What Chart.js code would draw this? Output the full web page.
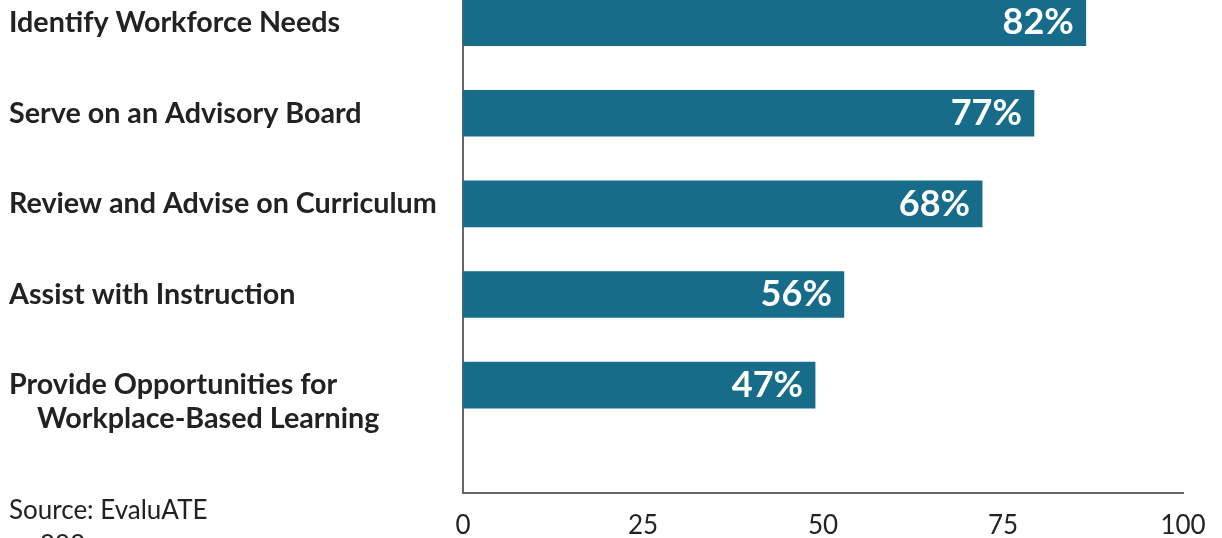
<!DOCTYPE html>
<html lang="en">
<head>
<meta charset="UTF-8">
<title>Business and industry partner roles</title>
<script src="https://cdn.jsdelivr.net/npm/chart.js"></script>
<style>
  body { margin: 0; background: #fff; font-family: Lato, sans-serif; }
  .wrap { position: relative; width: 1222px; height: 538px; overflow: hidden; }
  .source { position: absolute; left: 9px; top: 492px; font-size: 26px; line-height: 35px; color: #222; }
  .source span { padding-left: 31px; }
</style>
</head>
<body>
<div class="wrap">
  <canvas id="rolesChart"></canvas>
  <div class="source">Source: EvaluATE<br><span>999</span></div>
</div>

<script>
// category labels (top to bottom)
const categories = [
  ['Identify Workforce Needs'],
  ['Serve on an Advisory Board'],
  ['Review and Advise on Curriculum'],
  ['Assist with Instruction'],
  ['', 'Provide Opportunities for', '    Workplace-Based Learning']
];
// bar lengths as drawn in the picture
const barValues = [86.5, 79.3, 72.1, 52.9, 48.9];
// printed labels on the bars
const pctLabels = ['82%', '77%', '68%', '56%', '47%'];
const xTicks = [0, 25, 50, 75, 100];

const barColor = '#176c8a';

const barText = {
    id: 'barText',
    afterDatasetsDraw(chart) {
        const ctx = chart.ctx;
        ctx.save();
        ctx.font = 'bold 36px Lato';
        ctx.fillStyle = '#fff';
        ctx.textAlign = 'right';
        ctx.textBaseline = 'middle';
        chart.getDatasetMeta(0).data.forEach((bar, i) => {
            ctx.fillText(pctLabels[i], bar.x - 12, bar.y);
        });
        ctx.restore();
    }
};

new Chart(document.getElementById('rolesChart'), {
    type: 'bar',
    data: {
        datasets: [{
            data: barValues.map((v, i) => ({ x: v, y: i })),
            backgroundColor: barColor,
            barThickness: 46
        }]
    },
    options: {
        indexAxis: 'y',
        responsive: true,
        maintainAspectRatio: false,
        animation: false,
        layout: { padding: { left: 9, right: 39, top: 0, bottom: 0 } },
        plugins: { legend: { display: false }, tooltip: { enabled: false } },
        scales: {
            y: {
                type: 'linear',
                reverse: true,
                offset: false,
                min: -0.25,
                max: 5.19,
                grid: { display: false },
                border: { color: '#666', width: 2 },
                afterFit: s => { s.width = 454; s.paddingTop = 0; s.paddingBottom = 0; },
                ticks: {
                    stepSize: 1,
                    includeBounds: false,
                    autoSkip: false,
                    crossAlign: 'far',
                    color: '#222',
                    font: { family: 'Lato', size: 28.7, weight: 'bold', lineHeight: 1.18 },
                    callback: v => categories[v] || ''
                }
            },
            x: {
                type: 'linear',
                min: 0,
                max: 100,
                grid: { display: false },
                border: { color: '#666', width: 2 },
                afterFit: s => { s.height = 45; },
                afterBuildTicks: s => { s.ticks = xTicks.map(v => ({ value: v })); },
                ticks: {
                    padding: 9,
                    color: '#222',
                    font: { family: 'Lato', size: 26 }
                }
            }
        }
    },
    plugins: [barText]
});
</script>
</body>
</html>
